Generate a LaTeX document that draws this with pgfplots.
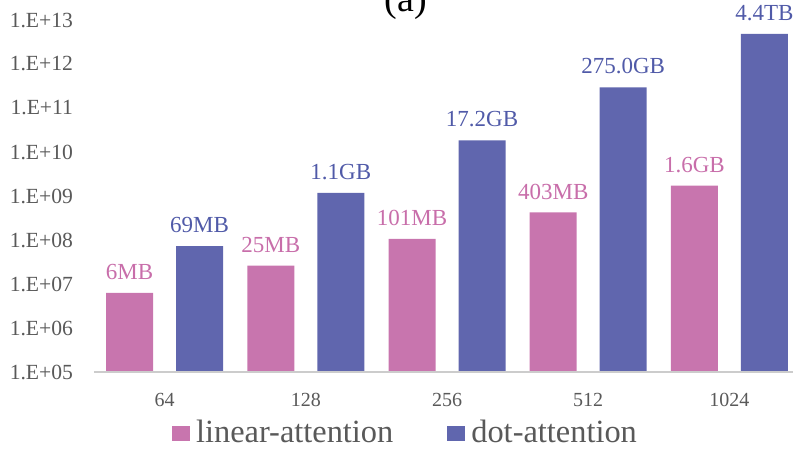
\documentclass[border=0pt]{standalone}
\usepackage{pgfplots}
\usepackage{pgfplotstable}
\pgfplotsset{compat=1.18}
\usepackage{fontspec}
\setmainfont{Liberation Serif}
\definecolor{linc}{RGB}{200,117,174}
\definecolor{dotc}{RGB}{96,102,174}
\definecolor{linl}{RGB}{200,110,170}
\definecolor{dotl}{RGB}{80,90,168}
\definecolor{tickc}{RGB}{89,89,89}

\pgfplotstableread{
x y lab
0 6291456 6MB
1 26214400 25MB
2 105906176 101MB
3 422576128 403MB
4 1717986918 1.6GB
}\lindata
\pgfplotstableread{
x y lab
0 72351744 69MB
1 1181116006 1.1GB
2 18468359045 17.2GB
3 295279001600 275.0GB
4 4837851162214 4.4TB
}\dotdata

\begin{document}
\begin{tikzpicture}
\begin{axis}[
  name=ax,
  scale only axis,
  width=349.5pt, height=176pt,
  xmin=-0.5, xmax=4.45,
  ymode=log, ymin=1e5, ymax=1e13,
  log origin=infty,
  axis line style={draw=none},
  xtick={0,1,2,3,4},
  xticklabels={64,128,256,512,1024},
  major tick length=0pt,
  ytick={1e5,1e6,1e7,1e8,1e9,1e10,1e11,1e12,1e13},
  yticklabels={1.E+05,1.E+06,1.E+07,1.E+08,1.E+09,1.E+10,1.E+11,1.E+12,1.E+13},
  minor tick num=0,
  yminorticks=false,
  /pgf/number format/assume math mode=true,
  xticklabel style={font=\fontsize{10}{12}\selectfont, text=tickc, yshift=-7pt},
  yticklabel style={font=\fontsize{10.8}{13}\selectfont, text=tickc, xshift=-7pt},
  xtick pos=bottom, ytick pos=left,
  clip=false,
  ybar,
  bar width=23.5pt,
  legend columns=2,
  legend style={draw=none, at={(0.4485,0)}, anchor=center, yshift=-30.5pt,
    font=\fontsize{16.2}{18}\selectfont, text=tickc,
    /tikz/every even column/.append style={column sep=24pt},
    /tikz/every odd column/.append style={column sep=0pt},
    nodes={inner xsep=3pt}},
  point meta=explicit symbolic,
  nodes near coords,
  every node near coord/.append style={font=\fontsize{11.5}{13}\selectfont, anchor=south, yshift=3pt},
]
\addplot[fill=linc, draw=none, bar shift=-17.5pt,
  every node near coord/.append style={text=linl},
  legend image code/.code={\fill[linc] (0pt,-3.75pt) rectangle (9pt,3.75pt);}]
  table[x=x, y=y, meta=lab] {\lindata};
\addlegendentry{linear-attention}
\addplot[fill=dotc, draw=none, bar shift=17.5pt,
  every node near coord/.append style={text=dotl},
  legend image code/.code={\fill[dotc] (0pt,-3.75pt) rectangle (9pt,3.75pt);}]
  table[x=x, y=y, meta=lab] {\dotdata};
\addlegendentry{dot-attention}
\end{axis}
\draw[color=black!20, line width=0.6pt] (0,0) -- (349.5pt,0);
\node[anchor=base, font=\fontsize{19}{21}\selectfont] at (156pt,180pt) {(a)};
\pgfresetboundingbox
\useasboundingbox (-47pt,-39.5pt) rectangle (350pt,186pt);
\end{tikzpicture}
\end{document}
